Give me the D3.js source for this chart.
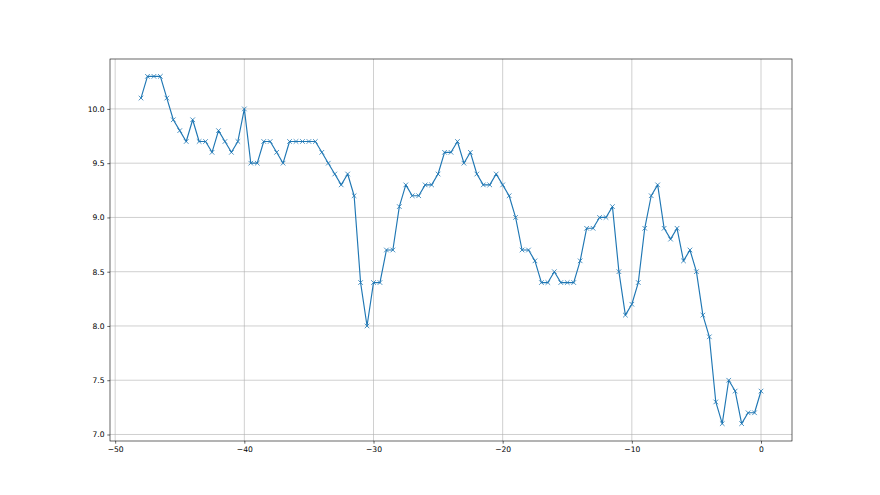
<!DOCTYPE html>
<html>
<head>
<meta charset="utf-8">
<script src="https://cdn.jsdelivr.net/npm/d3@7"></script>
<style>
  html, body { margin: 0; padding: 0; background: #fff; }
  svg { display: block; }
  .tick text { font-family: "DejaVu Sans", sans-serif; font-size: 7.6px; fill: #000; }
</style>
</head>
<body>
<div class="chart"></div>
<script>
// x positions of the samples
const xs = [
  -48, -47.5, -47, -46.5, -46, -45.5, -45, -44.5, -44, -43.5,
  -43, -42.5, -42, -41.5, -41, -40.5, -40, -39.5, -39, -38.5,
  -38, -37.5, -37, -36.5, -36, -35.5, -35, -34.5, -34, -33.5,
  -33, -32.5, -32, -31.5, -31, -30.5, -30, -29.5, -29, -28.5,
  -28, -27.5, -27, -26.5, -26, -25.5, -25, -24.5, -24, -23.5,
  -23, -22.5, -22, -21.5, -21, -20.5, -20, -19.5, -19, -18.5,
  -18, -17.5, -17, -16.5, -16, -15.5, -15, -14.5, -14, -13.5,
  -13, -12.5, -12, -11.5, -11, -10.5, -10, -9.5, -9, -8.5,
  -8, -7.5, -7, -6.5, -6, -5.5, -5, -4.5, -4, -3.5,
  -3, -2.5, -2, -1.5, -1, -0.5, 0
]
// series values
const ys = [
  10.1, 10.3, 10.3, 10.3, 10.1, 9.9, 9.8, 9.7, 9.9, 9.7,
  9.7, 9.6, 9.8, 9.7, 9.6, 9.7, 10.0, 9.5, 9.5, 9.7,
  9.7, 9.6, 9.5, 9.7, 9.7, 9.7, 9.7, 9.7, 9.6, 9.5,
  9.4, 9.3, 9.4, 9.2, 8.4, 8.0, 8.4, 8.4, 8.7, 8.7,
  9.1, 9.3, 9.2, 9.2, 9.3, 9.3, 9.4, 9.6, 9.6, 9.7,
  9.5, 9.6, 9.4, 9.3, 9.3, 9.4, 9.3, 9.2, 9.0, 8.7,
  8.7, 8.6, 8.4, 8.4, 8.5, 8.4, 8.4, 8.4, 8.6, 8.9,
  8.9, 9.0, 9.0, 9.1, 8.5, 8.1, 8.2, 8.4, 8.9, 9.2,
  9.3, 8.9, 8.8, 8.9, 8.6, 8.7, 8.5, 8.1, 7.9, 7.3,
  7.1, 7.5, 7.4, 7.1, 7.2, 7.2, 7.4
]
// tick values
const xTicks = [-50, -40, -30, -20, -10, 0]
const yTicks = [7.0, 7.5, 8.0, 8.5, 9.0, 9.5, 10.0]

const width = 880
const height = 495
const margin = { top: 59, right: 88, bottom: 54, left: 110 }
const blue = '#1f77b4'

const svg = d3.select('.chart').append('svg')
  .attr('width', width)
  .attr('height', height)

// matplotlib style 5% margins around the data
const xPad = (d3.max(xs) - d3.min(xs)) * 0.05
const yPad = (d3.max(ys) - d3.min(ys)) * 0.05
const x = d3.scaleLinear()
  .domain([d3.min(xs) - xPad, d3.max(xs) + xPad])
  .range([margin.left, width - margin.right])
const y = d3.scaleLinear()
  .domain([d3.min(ys) - yPad, d3.max(ys) + yPad])
  .range([height - margin.bottom, margin.top])

const fmtX = d => d3.format('d')(d).replace('-', '\u2212')
const fmtY = d3.format('.1f')

// grid lines
const grid = svg.append('g').attr('stroke', '#b0b0b0').attr('stroke-width', 0.6)
grid.selectAll('.gx').data(xTicks).join('line')
  .attr('x1', d => x(d)).attr('x2', d => x(d))
  .attr('y1', margin.top).attr('y2', height - margin.bottom)
grid.selectAll('.gy').data(yTicks).join('line')
  .attr('y1', d => y(d)).attr('y2', d => y(d))
  .attr('x1', margin.left).attr('x2', width - margin.right)

// axes
const xAxis = svg.append('g')
  .attr('transform', `translate(0,${height - margin.bottom})`)
  .call(d3.axisBottom(x).tickValues(xTicks).tickFormat(fmtX).tickSizeInner(2.7).tickSizeOuter(0).tickPadding(2.7))
const yAxis = svg.append('g')
  .attr('transform', `translate(${margin.left},0)`)
  .call(d3.axisLeft(y).tickValues(yTicks).tickFormat(fmtY).tickSizeInner(2.7).tickSizeOuter(0).tickPadding(2.7))
svg.selectAll('.domain').remove()
svg.selectAll('.tick line').attr('stroke', '#000').attr('stroke-width', 0.6)

// the line
const pts = xs.map((d, i) => [d, ys[i]])
svg.append('path')
  .datum(pts)
  .attr('fill', 'none')
  .attr('stroke', blue)
  .attr('stroke-width', 1.15)
  .attr('stroke-linejoin', 'round')
  .attr('stroke-linecap', 'square')
  .attr('d', d3.line().x(d => x(d[0])).y(d => y(d[1])))

// x markers
const m = 2.3
svg.append('g')
  .attr('stroke', blue)
  .attr('stroke-width', 0.8)
  .selectAll('path')
  .data(pts)
  .join('path')
  .attr('d', d => {
    const cx = x(d[0]), cy = y(d[1])
    return `M${cx - m},${cy - m}L${cx + m},${cy + m}M${cx - m},${cy + m}L${cx + m},${cy - m}`
  })

// frame
svg.append('rect')
  .attr('x', margin.left).attr('y', margin.top)
  .attr('width', width - margin.left - margin.right)
  .attr('height', height - margin.top - margin.bottom)
  .attr('fill', 'none')
  .attr('stroke', '#000')
  .attr('stroke-width', 0.6)
</script>
</body>
</html>
